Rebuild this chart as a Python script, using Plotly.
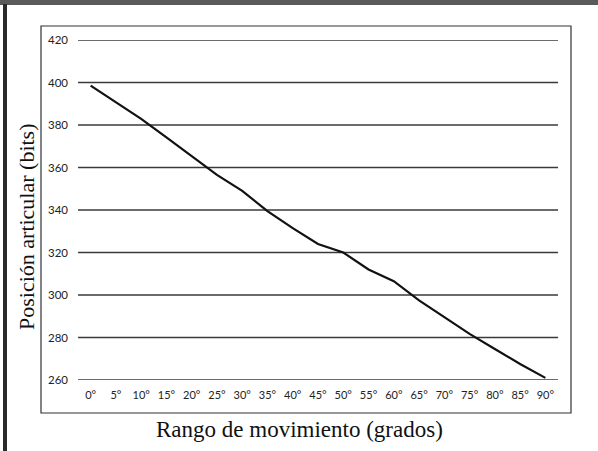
import plotly.graph_objects as go

categories = ["0°", "5°", "10°", "15°", "20°", "25°", "30°", "35°", "40°", "45°",
              "50°", "55°", "60°", "65°", "70°", "75°", "80°", "85°", "90°"]
posicion = [398.5, 390.7, 382.9, 374.2, 365.2, 356.5, 349.0, 339.5, 331.5, 324.0,
            320.0, 312.0, 306.5, 297.5, 289.6, 281.7, 274.6, 267.5, 261.0]
y_ticks = [260, 280, 300, 320, 340, 360, 380, 400, 420]

W, H = 598, 451
L, R, T, B = 78, 40, 40, 71
pw, ph = W - L - R, H - T - B

def px(x):
    return (x - L) / pw

def py(y):
    return (H - B - y) / ph

fig = go.Figure()
fig.add_trace(go.Scatter(x=categories, y=posicion, mode="lines",
                         line=dict(color="#111111", width=2.2), showlegend=False))

grid_shapes = [dict(type="line", xref="paper", yref="y", x0=0, x1=1, y0=v, y1=v,
                    line=dict(color="#3a3a3a", width=1.4), layer="below")
               for v in y_ticks]

fig.update_layout(
    width=W, height=H,
    margin=dict(l=L, r=R, t=T, b=B),
    paper_bgcolor="white", plot_bgcolor="white",
    xaxis=dict(type="category", range=[-0.5, 18.5], showgrid=False, zeroline=False,
               showline=False, ticks="", tickfont=dict(family="Lato", size=11, color="#222"),
               ticklabelstandoff=7),
    yaxis=dict(range=[260, 420], tickvals=y_ticks, showgrid=False, zeroline=False,
               showline=False, ticks="",
               tickfont=dict(family="Lato", size=11.5, color="#222"), ticklabelstandoff=9),
    shapes=grid_shapes + [
        dict(type="rect", xref="paper", yref="paper", x0=px(41), x1=px(571), y0=py(413), y1=py(26),
             line=dict(color="#333", width=1.2), layer="below"),
        dict(type="rect", xref="paper", yref="paper", x0=px(0), x1=px(598), y0=py(5), y1=py(0),
             line=dict(width=0), fillcolor="#5a5a5a", layer="below"),
        dict(type="rect", xref="paper", yref="paper", x0=px(3), x1=px(7), y0=py(451), y1=py(4),
             line=dict(width=0), fillcolor="#2a2a2a", layer="below"),
    ],
    annotations=[
        dict(text="Rango de movimiento (grados)", xref="paper", yref="paper",
             x=px(299), y=py(429), xanchor="center", yanchor="middle", showarrow=False,
             font=dict(family="Liberation Serif", size=23, color="#111")),
        dict(text="Posición articular (bits)", xref="paper", yref="paper",
             x=px(26), y=py(227), xanchor="center", yanchor="middle", showarrow=False,
             textangle=-90, font=dict(family="Liberation Serif", size=22, color="#111")),
    ],
)

fig.write_html("out.html", config={"displayModeBar": False},
               post_script="document.body.style.margin='0px';")
